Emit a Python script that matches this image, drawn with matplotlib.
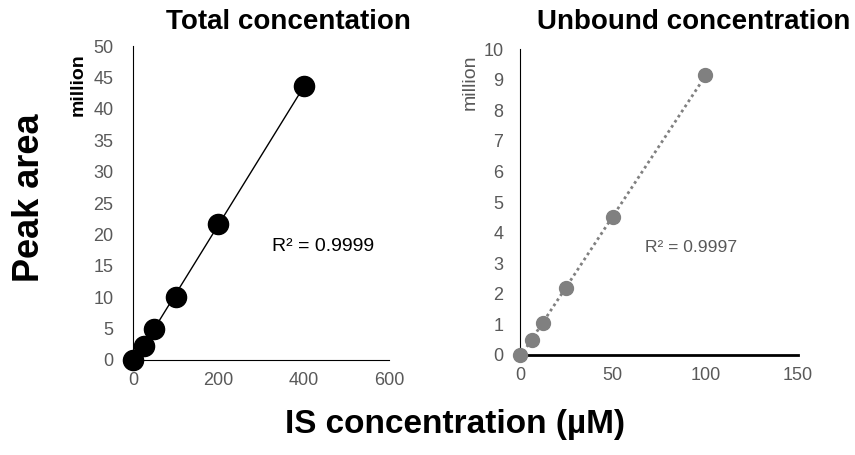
import numpy as np
import matplotlib.pyplot as plt

plt.rcParams['font.family'] = ['Liberation Sans', 'DejaVu Sans']

# concentrações (µM) e áreas de pico (milhões)
total_conc = [0, 25, 50, 100, 200, 400]
total_area = [0.0, 2.2, 4.9, 10.0, 21.6, 43.6]
unbound_conc = [0, 6.25, 12.5, 25, 50, 100]
unbound_area = [0.0, 0.5, 1.05, 2.2, 4.5, 9.15]

tick_grey = '#595959'
dot_grey = '#808080'

fig = plt.figure(figsize=(8.55, 4.55), dpi=100)
ax1 = fig.add_axes([0.1556, 0.2088, 0.2994, 0.690])
ax2 = fig.add_axes([0.6082, 0.2198, 0.3251, 0.672])


def fit_line(ax, x, y, **kw):
    # reta de regressão linear, como a linha de tendência do Excel
    m, b = np.polyfit(x, y, 1)
    xs = np.array([min(x), max(x)])
    ax.plot(xs, m * xs + b, zorder=2, **kw)


def style(ax, bottom_lw, ypad):
    for s in ['top', 'right']:
        ax.spines[s].set_visible(False)
    ax.spines['left'].set_linewidth(0.8)
    ax.spines['bottom'].set_linewidth(bottom_lw)
    ax.tick_params(length=0, labelsize=13, labelcolor=tick_grey)
    ax.tick_params(axis='y', pad=ypad)
    ax.tick_params(axis='x', pad=9)


# painel da esquerda: concentração total
fit_line(ax1, total_conc, total_area, color='black', lw=1)
ax1.plot(total_conc, total_area, 'o', ms=14.5, color='black', zorder=3, clip_on=False)
ax1.set_xlim(0, 600)
ax1.set_ylim(0, 50)
ax1.set_xticks(range(0, 601, 200))
ax1.set_yticks(range(0, 51, 5))
style(ax1, 0.8, 14)
fig.text(0.337, 0.952, 'Total concentation', fontsize=20, fontweight='bold',
         ha='center', va='center')
ax1.text(325, 18.0, 'R² = 0.9999', fontsize=14, va='center')
fig.text(0.091, 0.815, 'million', rotation=90, fontsize=14, fontweight='bold',
         ha='center', va='center')

# painel da direita: concentração livre
fit_line(ax2, unbound_conc, unbound_area, color=dot_grey, lw=2, ls=(0, (1, 1.2)))
ax2.plot(unbound_conc, unbound_area, 'o', ms=10, color=dot_grey, zorder=3, clip_on=False)
ax2.set_xlim(0, 150)
ax2.set_ylim(0, 10)
ax2.set_xticks(range(0, 151, 50))
ax2.set_yticks(range(0, 11, 1))
style(ax2, 2, 12)
fig.text(0.811, 0.952, 'Unbound concentration', fontsize=20, fontweight='bold',
         ha='center', va='center')
ax2.text(67.5, 3.5, 'R² = 0.9997', fontsize=12.6, color=tick_grey, va='center')
fig.text(0.550, 0.82, 'million', rotation=90, fontsize=14, color=tick_grey,
         ha='center', va='center')

fig.text(0.035, 0.565, 'Peak area', rotation=90, fontsize=26, fontweight='bold',
         ha='center', va='center')
fig.text(0.532, 0.066, 'IS concentration (µM)', fontsize=24, fontweight='bold',
         ha='center', va='center')

fig.savefig('out.png', dpi=100)
